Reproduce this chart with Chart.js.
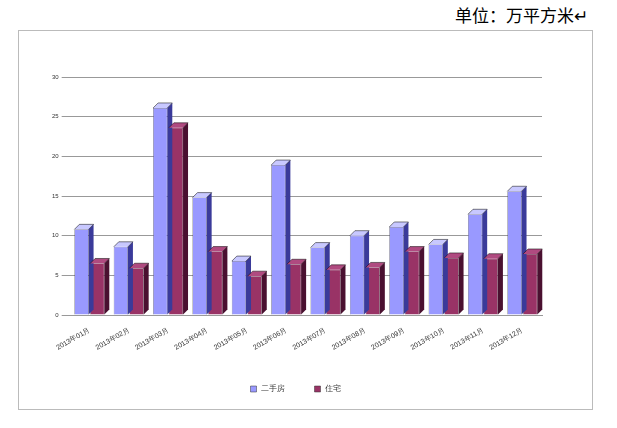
<!DOCTYPE html><html><head><meta charset="utf-8">
<script src="https://cdn.jsdelivr.net/npm/chart.js@4"></script>
<style>body{margin:0;background:#fff;font-family:"Noto Sans CJK SC",sans-serif}
#t{position:absolute;left:455px;top:2px;font-size:17px;color:#000}
#box{position:absolute;left:18px;top:30px;width:573px;height:378px;border:1px solid #bbb}
</style></head><body>
<div id="t">单位：万平方米↵</div>
<div id="box"><canvas id="c"></canvas></div>
<script>
const categories=["2013年01月","2013年02月","2013年03月","2013年04月","2013年05月","2013年06月","2013年07月","2013年08月","2013年09月","2013年10月","2013年11月","2013年12月"];
const seriesA=[10.8,8.6,26.1,14.8,6.8,18.9,8.5,10,11.1,8.9,12.7,15.6];
const seriesB=[6.5,5.9,23.6,8,4.9,6.4,5.7,6,8,7.2,7.1,7.7];
const depth={id:'depth',afterDatasetsDraw(ch){const ctx=ch.ctx;const d=5;
ch.data.datasets.forEach((ds,i)=>{const side=i?'#4a1030':'#3a3a9a',top=i?'#b04a80':'#c8c8ff';
ch.getDatasetMeta(i).data.forEach(b=>{const l=b.x-b.width/2,r=b.x+b.width/2,t=b.y,bt=b.base;
ctx.fillStyle=side;ctx.beginPath();ctx.moveTo(r,t);ctx.lineTo(r+d,t-d);ctx.lineTo(r+d,bt-d);ctx.lineTo(r,bt);ctx.fill();
ctx.fillStyle=top;ctx.beginPath();ctx.moveTo(l,t);ctx.lineTo(l+d,t-d);ctx.lineTo(r+d,t-d);ctx.lineTo(r,t);ctx.fill();ctx.strokeStyle='#000';ctx.lineWidth=0.5;ctx.stroke();});});}};
new Chart(document.getElementById('c'),{type:'bar',plugins:[depth],
data:{labels:categories,datasets:[
{label:'二手房',data:seriesA,backgroundColor:'#9999ff',borderColor:'#333',borderWidth:0.5},
{label:'住宅',data:seriesB,backgroundColor:'#993366',borderColor:'#333',borderWidth:0.5}]},
options:{responsive:true,maintainAspectRatio:false,animation:false,
layout:{padding:{left:30,right:50,top:46,bottom:6}},
plugins:{legend:{position:'bottom',labels:{boxWidth:6,boxHeight:6,font:{size:8},color:'#333',padding:30}},tooltip:{enabled:false}},
scales:{x:{grid:{display:false},border:{color:'#999'},ticks:{font:{size:7},color:'#333',maxRotation:30,minRotation:30},categoryPercentage:0.7,barPercentage:1},
y:{min:0,max:30,ticks:{stepSize:5,font:{size:6},color:'#333'},grid:{color:'#999'},border:{display:false}}}}});
</script></body></html>
